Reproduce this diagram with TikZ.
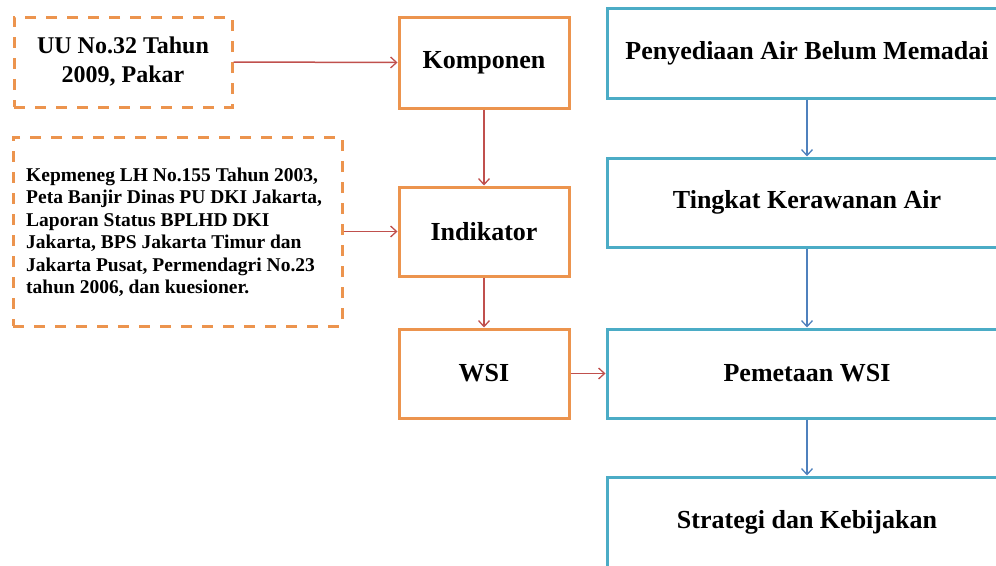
\documentclass[tikz,border=0pt]{standalone}
\usepackage{fontspec}
\setmainfont{Liberation Serif}
\usetikzlibrary{arrows.meta}
\definecolor{orbox}{RGB}{236,148,78}
\definecolor{tealbox}{RGB}{75,172,198}
\definecolor{redarr}{RGB}{192,80,77}
\definecolor{bluearr}{RGB}{79,129,189}
\tikzset{
  srcbox/.style={draw=orbox, line width=3pt, dash pattern=on 11pt off 10pt, inner sep=0pt, font=\bfseries},
  midbox/.style={draw=orbox, line width=3pt, minimum width=170pt, minimum height=89pt, inner sep=0pt, font=\bfseries\fontsize{26}{30}\selectfont},
  outbox/.style={draw=tealbox, line width=3pt, minimum width=400pt, minimum height=89pt, inner sep=0pt, font=\bfseries\fontsize{26}{30}\selectfont},
  redline/.style={draw=redarr, line width=1.5pt, -{Straight Barb[length=6pt,width=11pt,line width=1.3pt]}},
  blueline/.style={draw=bluearr, line width=1.5pt, -{Straight Barb[length=6pt,width=11pt,line width=1.3pt]}}
}
\begin{document}
\begin{tikzpicture}[x=1pt,y=-1pt]
\useasboundingbox (0,0) rectangle (996,565);
\clip (0,0) rectangle (996,565);
\node[srcbox, minimum width=218pt, minimum height=90pt, align=center,
  font=\bfseries\fontsize{24}{29}\selectfont] (uu) at (123,62) {UU No.32 Tahun\\2009, Pakar};
\node[srcbox, minimum width=329pt, minimum height=189pt] (kep) at (177.5,231.5) {};
\node[anchor=west, align=left, inner sep=0pt, font=\bfseries\fontsize{19.5}{22.5}\selectfont] (keptext) at (26,232)
  {Kepmeneg LH No.155 Tahun 2003,\\Peta Banjir Dinas PU DKI Jakarta,\\Laporan Status BPLHD DKI\\Jakarta, BPS Jakarta Timur dan\\Jakarta Pusat, Permendagri No.23\\tahun 2006, dan kuesioner.};
\node[midbox, minimum height=91pt] (komp) at (484,62.5) {Komponen};
\node[midbox] (ind) at (484,231.5) {Indikator};
\node[midbox] (wsi) at (484,373.5) {WSI};
\node[outbox, minimum height=90pt] (pen) at (807,53) {Penyediaan Air Belum Memadai};
\node[outbox] (tin) at (807,202.5) {Tingkat Kerawanan Air};
\node[outbox] (pem) at (807,373.5) {Pemetaan WSI};
\node[outbox, minimum height=90pt] (str) at (807,522) {Strategi dan Kebijakan};
\draw[redline] (uu.east) -- (komp.west);
\draw[redline] (kep.east) -- (ind.west);
\draw[redline] (komp.south) -- (ind.north);
\draw[redline] (ind.south) -- (wsi.north);
\draw[redline] (wsi.east) -- (pem.west);
\draw[blueline] (pen.south) -- (tin.north);
\draw[blueline] (tin.south) -- (pem.north);
\draw[blueline] (pem.south) -- (str.north);
\end{tikzpicture}
\end{document}
